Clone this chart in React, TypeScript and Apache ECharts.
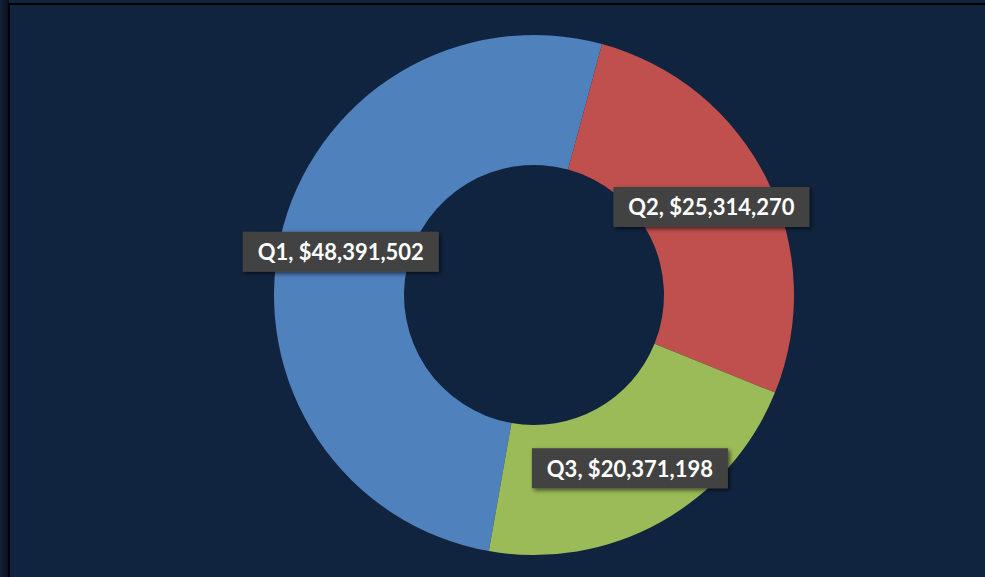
import React, { useEffect, useRef } from "react";
import * as echarts from "echarts";

const categories = ["Q1", "Q2", "Q3"];
const values = [48391502, 25314270, 20371198];
const colors = ["#4f81bd", "#c0504d", "#9bbb59"];

export default function App() {
  const ref = useRef<HTMLDivElement>(null);
  useEffect(() => {
    const chart = echarts.init(ref.current!, null, { renderer: "svg" });
    const fmt = (v: number) => "$" + v.toLocaleString("en-US");
    chart.setOption({
      animation: false,
      backgroundColor: "#10243f",
      graphic: [
        {
          type: "rect",
          shape: { x: 0, y: 0, width: 9, height: 577 },
          style: {
            fill: new echarts.graphic.LinearGradient(0, 0, 1, 0, [
              { offset: 0, color: "#13233a" },
              { offset: 1, color: "#070f1c" },
            ]),
          },
          z: -1,
        },
        {
          type: "rect",
          shape: { x: 9, y: 4, width: 990, height: 590 },
          style: { fill: "#10243f", stroke: "#000000", lineWidth: 2 },
          z: -1,
        },
      ],
      series: [
        {
          type: "pie",
          center: [534, 295],
          radius: [130, 260],
          startAngle: 260,
          clockwise: true,
          data: categories.map((c, i) => ({
            name: c,
            value: values[i],
            itemStyle: { color: colors[i] },
          })),
          label: {
            show: true,
            position: "inside",
            formatter: (p: any) => `${p.name}, ${fmt(p.value)}`,
            color: "#ffffff",
            fontFamily: "Lato",
            fontWeight: "bold",
            fontSize: 22,
            lineHeight: 22,
            width: 180,
            align: "center",
            backgroundColor: "#434343",
            padding: [10, 8, 8, 8],
            shadowColor: "rgba(0,0,0,0.6)",
            shadowBlur: 4,
            shadowOffsetX: 2,
            shadowOffsetY: 2,
          },
          labelLine: { show: false },
          emphasis: { disabled: true },
        },
      ],
    });
    return () => chart.dispose();
  }, []);
  return (
    <div
      ref={ref}
      style={{ position: "fixed", left: 0, top: 0, width: 985, height: 577 }}
    />
  );
}
